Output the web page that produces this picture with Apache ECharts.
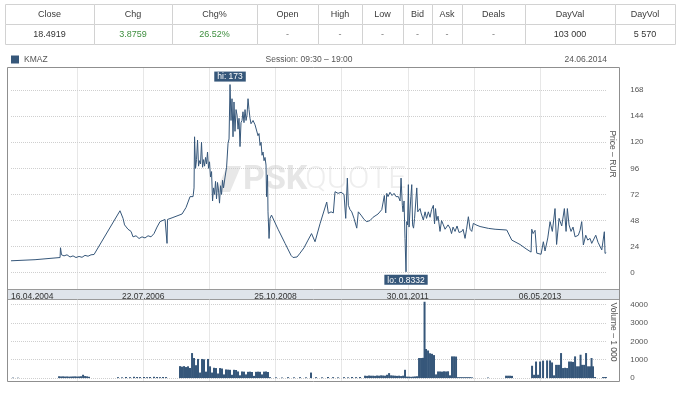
<!DOCTYPE html>
<html><head><meta charset="utf-8">
<script src="https://cdn.jsdelivr.net/npm/echarts@6/dist/echarts.min.js"></script>
<style>html,body{margin:0;padding:0;background:#fff}#c{width:680px;height:393px}</style>
</head><body><div id="c"></div>
<script>
// ---- quote table ----
const tableHeaders = ['Close','Chg','Chg%','Open','High','Low','Bid','Ask','Deals','DayVal','DayVol'];
const tableValues  = ['18.4919','3.8759','26.52%','-','-','-','-','-','-','103 000','5 570'];
const tableGreen   = [false,true,true,false,false,false,false,false,false,false,false];

// ---- chart texts ----
const ticker = 'KMAZ';
const sessionText = 'Session: 09:30 \u2013 19:00';
const lastDate = '24.06.2014';
const priceAxisName = 'Price \u2013 RUR';
const volumeAxisName = 'Volume \u2013 1 000';

// ---- time axis (decimal years) ----
const xMin = 2004.2896;   // 16.04.2004
const xMax = 2014.4758;   // 24.06.2014
const xTickLabels = ['16.04.2004','22.07.2006','25.10.2008','30.01.2011','06.05.2013'];
const xTickYears  = [2004.2896, 2006.5535, 2008.8170, 2011.0806, 2013.3441];
const xGridYears  = [2005.4218, 2006.5535, 2007.6853, 2008.8170, 2009.9488, 2011.0806, 2012.2123, 2013.3441];

// ---- value axes ----
const priceTicks  = [0,24,48,72,96,120,144,168];
const volumeTicks = [0,1000,2000,3000,4000];

// ---- price series [year, RUR] ----
const priceData = [
[2004.290,11.0],[2004.701,12.0],[2005.129,14.0],[2005.137,23.0],[2005.154,16.5],[2005.197,15.5],[2005.248,16.5],[2005.300,14.5],
[2005.351,15.5],[2005.402,14.0],[2005.454,15.0],[2005.505,14.2],[2005.556,16.0],[2005.608,15.2],[2005.659,16.5],[2005.711,16.8],
[2006.155,57],[2006.207,50],[2006.233,44],[2006.292,40],[2006.344,38],[2006.378,33],[2006.429,34],[2006.481,31.5],[2006.532,33],
[2006.583,32],[2006.635,34],[2006.686,33],[2006.737,36],[2006.789,42],[2006.840,47],[2006.874,46],[2006.926,49],[2006.951,48],
[2006.960,27],[2006.968,49],[2007.046,50.5],[2007.217,54],[2007.285,60],[2007.354,70],[2007.405,70],[2007.422,78],[2007.431,125],
[2007.448,96],[2007.465,104],[2007.482,122],[2007.499,98],[2007.516,103],[2007.533,100],[2007.550,120],[2007.568,97],[2007.585,104],
[2007.602,98],[2007.619,106],[2007.636,100],[2007.653,111],[2007.670,96],[2007.687,102],[2007.704,88],[2007.722,93],[2007.739,66],
[2007.756,78],[2007.773,72],[2007.790,84],[2007.807,68],[2007.824,83],[2007.841,76],[2007.858,64],[2007.876,80],[2007.893,72],
[2007.910,85],[2007.927,78],[2007.953,88],[2007.979,97],[2008.004,119],[2008.021,123],[2008.038,173],[2008.055,140],[2008.072,160],
[2008.089,125],[2008.106,157],[2008.123,130],[2008.141,150],[2008.158,145],[2008.175,132],[2008.192,142],[2008.209,116],[2008.226,138],
[2008.243,140],[2008.260,148],[2008.277,138],[2008.295,150],[2008.312,140],[2008.329,145],[2008.346,160],[2008.363,150],[2008.380,142],
[2008.397,137],[2008.432,140],[2008.466,136],[2008.500,137],[2008.517,126],[2008.534,128],[2008.552,117],[2008.569,120],[2008.586,108],
[2008.603,111],[2008.620,103],[2008.637,106],[2008.654,99],[2008.663,70],[2008.680,90],[2008.688,56],[2008.706,31.5],[2008.723,50],
[2008.748,53],[2008.860,40],[2008.980,27],[2009.082,16],[2009.116,14],[2009.185,14.5],[2009.236,18],[2009.305,23],[2009.373,30],
[2009.433,36],[2009.493,28.5],[2009.578,45],[2009.693,65],[2009.721,54.6],[2009.767,56],[2009.806,55],[2009.835,74.5],[2009.887,73],
[2009.938,74],[2009.989,72],[2010.006,73],[2010.018,50],[2010.046,87],[2010.063,62],[2010.092,58],[2010.121,56],[2010.160,50],
[2010.207,41],[2010.234,56],[2010.280,53],[2010.332,49],[2010.378,47],[2010.434,48],[2010.486,51],[2010.520,50],[2010.571,54],
[2010.635,58],[2010.679,71],[2010.703,55],[2010.720,73],[2010.742,70],[2010.776,74],[2010.811,71],[2010.845,73],[2010.879,70],
[2010.919,70],[2010.948,66],[2010.965,87],[2010.987,62],[2010.999,56],[2011.016,66],[2011.033,31.6],[2011.050,0.8332],[2011.062,47],
[2011.076,44],[2011.090,81],[2011.102,42],[2011.119,41],[2011.133,70],[2011.148,81],[2011.162,44],[2011.179,41],[2011.196,50],
[2011.234,78],[2011.251,56],[2011.273,57],[2011.290,59],[2011.307,55],[2011.346,48.5],[2011.376,56],[2011.401,50],[2011.432,56],
[2011.461,51],[2011.487,58],[2011.518,62],[2011.538,45],[2011.555,59],[2011.576,48],[2011.598,52],[2011.632,38],[2011.658,48],
[2011.689,44],[2011.718,40],[2011.747,39.5],[2011.769,44],[2011.803,41],[2011.829,36],[2011.855,42],[2011.889,38],[2011.923,43],
[2011.957,37],[2012.004,38],[2012.026,40],[2012.060,31.6],[2012.086,40],[2012.117,51.5],[2012.146,40],[2012.175,38],[2012.202,45.4],
[2012.248,44],[2012.317,42.5],[2012.459,40.8],[2012.574,40],[2012.774,39.3],[2012.860,30],[2013.001,26],[2013.104,22],[2013.190,19],
[2013.202,40],[2013.224,36],[2013.258,39],[2013.287,18],[2013.361,17],[2013.400,28.5],[2013.429,20],[2013.476,32],[2013.515,47],
[2013.554,38],[2013.600,59],[2013.627,26],[2013.669,50],[2013.715,43],[2013.760,59],[2013.789,38],[2013.811,59],[2013.840,44],
[2013.874,38],[2013.908,42],[2013.943,33],[2013.999,34.5],[2014.028,39],[2014.057,47],[2014.085,25.5],[2014.126,34.5],[2014.160,30],
[2014.199,31.6],[2014.228,27],[2014.297,34.5],[2014.336,28],[2014.400,21],[2014.430,20],[2014.444,37.7],[2014.456,17.8],[2014.4758,18.4919]
];

// ---- volume series [year, thousands] ----
const volumeData = [
[2004.324,25],[2004.410,20],
[2005.112,100],[2005.146,90],[2005.180,95],[2005.214,85],[2005.249,90],[2005.283,80],[2005.317,85],[2005.351,90],[2005.386,95],
[2005.420,85],[2005.454,90],[2005.488,100],[2005.523,180],[2005.557,110],[2005.591,95],[2005.625,70],
[2006.121,50],[2006.190,40],[2006.258,60],[2006.327,50],[2006.395,70],[2006.447,60],[2006.498,55],[2006.566,60],[2006.618,50],
[2006.669,60],[2006.737,70],[2006.789,60],[2006.840,50],[2006.891,60],[2006.943,55],
[2007.182,650],[2007.216,620],[2007.251,650],[2007.285,600],[2007.319,640],[2007.353,550],[2007.388,1360],[2007.422,1090],
[2007.456,700],[2007.490,1040],[2007.525,300],[2007.559,1040],[2007.593,1020],[2007.627,350],[2007.661,1040],[2007.696,640],
[2007.730,300],[2007.764,560],[2007.798,545],[2007.833,250],[2007.867,545],[2007.901,520],[2007.935,200],[2007.969,470],
[2008.004,460],[2008.038,450],[2008.072,180],[2008.106,450],[2008.141,440],[2008.175,360],[2008.209,150],[2008.243,360],
[2008.277,350],[2008.312,200],[2008.346,340],[2008.380,350],[2008.414,330],[2008.448,120],[2008.483,340],[2008.517,350],
[2008.551,340],[2008.585,200],[2008.620,350],[2008.654,360],[2008.688,330],[2008.722,50],
[2008.825,40],[2008.928,30],[2009.031,50],[2009.133,40],[2009.236,50],[2009.339,40],[2009.424,300],[2009.510,50],[2009.613,40],
[2009.715,60],[2009.801,50],[2009.887,40],[2009.989,50],[2010.058,40],[2010.126,60],[2010.195,50],[2010.263,60],
[2010.349,130],[2010.383,120],[2010.417,140],[2010.451,130],[2010.486,130],[2010.520,120],[2010.554,140],[2010.588,130],
[2010.623,150],[2010.657,140],[2010.691,130],[2010.725,180],[2010.760,270],[2010.794,150],[2010.828,140],[2010.862,130],
[2010.896,120],[2010.931,130],[2010.965,110],[2010.999,130],
[2011.033,450],[2011.067,80],[2011.102,80],[2011.136,70],[2011.170,80],[2011.204,90],[2011.238,100],[2011.273,1090],[2011.307,1090],
[2011.341,1100],[2011.367,4150],[2011.392,1580],[2011.427,1500],[2011.461,1350],[2011.495,1320],[2011.529,1250],[2011.564,200],
[2011.598,360],[2011.632,360],[2011.666,350],[2011.700,370],[2011.735,360],[2011.769,370],[2011.803,150],[2011.837,1180],
[2011.872,1180],[2011.906,1170],[2011.940,50],[2011.974,50],[2012.008,50],[2012.043,50],[2012.077,50],[2012.111,50],[2012.145,50],
[2012.180,40],[2012.454,30],[2012.762,130],[2012.796,130],[2012.830,130],[2012.864,120],
[2013.207,670],[2013.241,180],[2013.275,900],[2013.310,180],[2013.344,900],[2013.395,950],[2013.464,960],[2013.515,960],
[2013.549,850],[2013.583,150],[2013.618,720],[2013.652,720],[2013.686,720],[2013.703,1360],[2013.737,545],[2013.772,560],
[2013.806,545],[2013.840,900],[2013.874,900],[2013.908,880],[2013.943,1180],[2013.977,640],[2014.011,640],[2014.037,1270],
[2014.062,720],[2014.097,720],[2014.131,1360],[2014.165,640],[2014.199,640],[2014.225,1090],[2014.250,640],[2014.285,60],
[2014.421,55],[2014.455,55],[2014.472,55]
];

// ---- styling / layout ----
const FONT = 'Liberation Sans, Arial, sans-serif';
const BLUE = '#36577a';
const colEdges = [5,94,172,257,318,362,403,432,462,525,615,675];
const rowTop = 4, rowH = 20;

const graphics = [];
// table
for (let i = 0; i < tableHeaders.length; i++) {
  const x0 = colEdges[i], w = colEdges[i+1] - colEdges[i], cx = x0 + w / 2;
  for (let r = 0; r < 2; r++) {
    graphics.push({type:'rect', shape:{x:x0+0.5, y:rowTop+r*rowH+0.5, width:w, height:rowH},
      style:{fill:'#fff', stroke:'#d2d2d2', lineWidth:1}, silent:true});
  }
  graphics.push({type:'text', x:cx, y:rowTop+rowH/2+0.5, silent:true,
    style:{text:tableHeaders[i], fill:'#3a3a3a', font:'9px '+FONT, textAlign:'center', textVerticalAlign:'middle'}});
  graphics.push({type:'text', x:cx, y:rowTop+rowH*1.5+0.5, silent:true,
    style:{text:tableValues[i], fill:tableGreen[i] ? '#3f8f3f' : (tableValues[i]==='-' ? '#777' : '#333'),
      font:'9px '+FONT, textAlign:'center', textVerticalAlign:'middle'}});
}
// header texts
graphics.push({type:'text', x:309, y:60, silent:true,
  style:{text:sessionText, fill:'#555', font:'8.5px '+FONT, textAlign:'center', textVerticalAlign:'middle'}});
graphics.push({type:'text', x:607, y:60, silent:true,
  style:{text:lastDate, fill:'#555', font:'8.5px '+FONT, textAlign:'right', textVerticalAlign:'middle'}});
// date band
graphics.push({type:'rect', z:-1, silent:true, shape:{x:7.5, y:289.5, width:612, height:10},
  style:{fill:'#dfe4ea', stroke:'#9a9a9a', lineWidth:1}});
// watermark
graphics.push({type:'polygon', z:-2, silent:true, shape:{points:[[216,192],[227,166],[241,166],[230,192]]},
  style:{fill:'#e8e8e8'}});
graphics.push({type:'text', z:-2, x:243, y:180, silent:true,
  style:{text:'PSK', fill:'#e6e6e6', font:'bold 34px Roboto, '+FONT, textAlign:'left', textVerticalAlign:'middle'}});
graphics.push({type:'text', z:-2, x:305, y:180, silent:true,
  style:{text:'QUOTE', fill:'#eeeeee', font:'300 32px Roboto, '+FONT, textAlign:'left', textVerticalAlign:'middle'}});
// axis names
graphics.push({type:'text', x:612, y:154, rotation:-Math.PI/2, silent:true,
  style:{text:priceAxisName, fill:'#555', font:'8.5px '+FONT, textAlign:'center', textVerticalAlign:'middle'}});
graphics.push({type:'text', x:613, y:332, rotation:-Math.PI/2, silent:true,
  style:{text:volumeAxisName, fill:'#555', font:'8.5px '+FONT, textAlign:'center', textVerticalAlign:'middle'}});
// outer frame
graphics.push({type:'rect', z:10, silent:true, shape:{x:7.5, y:67.5, width:612, height:314},
  style:{fill:null, stroke:'#8f8f8f', lineWidth:1}});

function xLabel(v) {
  for (let i = 0; i < xTickYears.length; i++) if (Math.abs(v - xTickYears[i]) < 0.001) return xTickLabels[i];
  return '';
}
const plainNum = v => String(v);
const splitStyle = {show:true, lineStyle:{type:'dotted', color:'#cfcfcf', width:1}};

const chart = echarts.init(document.getElementById('c'), null, {renderer:'canvas'});
chart.setOption({
  animation:false,
  backgroundColor:'#fff',
  textStyle:{fontFamily:FONT},
  legend:{data:[ticker], left:11, top:55, icon:'rect', itemWidth:8, itemHeight:8, padding:0,
    selectedMode:false, textStyle:{fontSize:8.5, color:'#555', fontFamily:FONT}},
  grid:[
    {left:11, top:67.5, width:595.2, height:222},
    {left:11, top:299.5, width:595.2, height:82}
  ],
  xAxis:[
    {type:'value', gridIndex:0, min:xMin, max:xMax,
      axisLine:{show:false}, axisTick:{show:false, customValues:xGridYears},
      axisLabel:{show:true, customValues:xTickYears, formatter:xLabel, margin:2.5, fontSize:8.5, color:'#333',
        fontFamily:FONT, alignMinLabel:'left'},
      splitLine:splitStyle},
    {type:'value', gridIndex:1, min:xMin, max:xMax,
      axisLine:{show:false}, axisTick:{show:false, customValues:xGridYears},
      axisLabel:{show:false}, splitLine:splitStyle}
  ],
  yAxis:[
    {type:'value', gridIndex:0, position:'right', min:-15.4, max:188.7,
      axisLine:{show:false}, axisTick:{show:false, customValues:priceTicks},
      axisLabel:{customValues:priceTicks, formatter:plainNum, margin:24, fontSize:8, color:'#555', fontFamily:FONT},
      splitLine:splitStyle},
    {type:'value', gridIndex:1, position:'right', min:-186, max:4273,
      axisLine:{show:false}, axisTick:{show:false, customValues:volumeTicks},
      axisLabel:{customValues:volumeTicks, formatter:plainNum, margin:24, fontSize:8, color:'#555', fontFamily:FONT},
      splitLine:splitStyle}
  ],
  series:[
    {name:ticker, type:'line', xAxisIndex:0, yAxisIndex:0, data:priceData, showSymbol:false,
      lineStyle:{width:1, color:BLUE}, itemStyle:{color:BLUE}, z:3,
      markPoint:{symbol:'circle', symbolSize:0, animation:false,
        label:{show:true, color:'#fff', backgroundColor:BLUE, padding:[1,3,0,3], fontSize:8.5, fontFamily:FONT},
        data:[
          {type:'max', valueIndex:1, label:{position:'top', distance:3, formatter:p => 'hi: ' + p.value}},
          {type:'min', valueIndex:1, label:{position:'bottom', distance:3, formatter:p => 'lo: ' + p.value}}
        ]}},
    {name:'Volume', type:'bar', xAxisIndex:1, yAxisIndex:1, data:volumeData, barWidth:2,
      itemStyle:{color:BLUE}}
  ],
  graphic:{elements:graphics}
});
</script></body></html>
